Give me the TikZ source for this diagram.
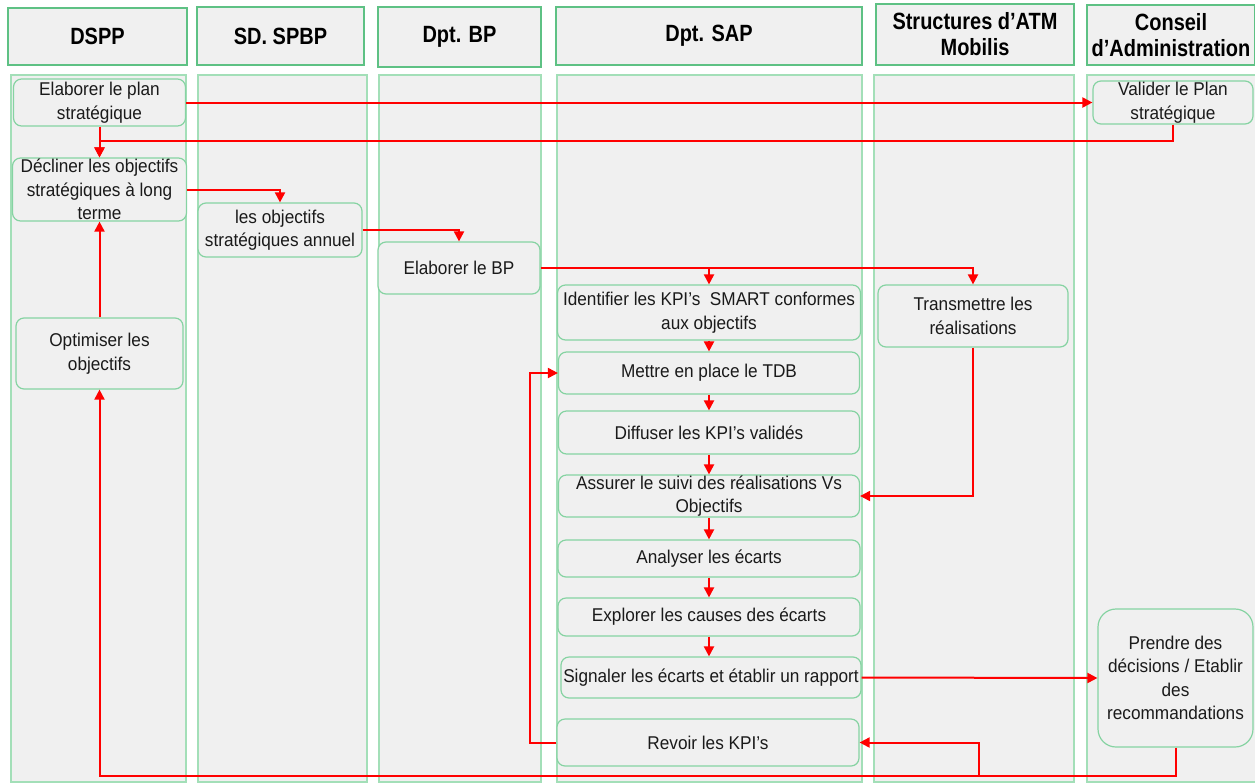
\documentclass[tikz,border=0pt]{standalone}
\usepackage{fontspec}
\setmainfont{Liberation Sans}[FakeStretch=0.93]
\newfontfamily\headfont{Liberation Sans}[FakeStretch=0.85]
\usetikzlibrary{arrows.meta}
\definecolor{lanefill}{HTML}{F0F0F0}
\definecolor{laneline}{HTML}{A3DFB8}
\definecolor{headline}{HTML}{5EC184}
\definecolor{boxline}{HTML}{86D3A2}
\definecolor{flowred}{HTML}{FF0000}
\definecolor{ink}{HTML}{1A1A1A}
\tikzset{
  lane/.style={draw=laneline, fill=lanefill, line width=1.2pt},
  head/.style={draw=headline, fill=lanefill, line width=1.4pt, text=black,
    font=\headfont\fontsize{23.5}{26}\selectfont\bfseries, align=center, inner sep=0pt},
  task/.style={draw=boxline, fill=lanefill, line width=1.2pt, rounded corners=8pt,
    text=ink, font=\fontsize{18.5}{23.5}\selectfont, align=center, inner sep=0pt},
  flow/.style={draw=flowred, line width=2pt, -{Triangle[length=10pt,width=10pt]}},
}
\begin{document}
\begin{tikzpicture}[x=1pt,y=-1pt]
\useasboundingbox[fill=white] (0,0) rectangle (1255,782);

% swimlane bodies
\draw[lane] (11,75) rectangle (186,782);
\draw[lane] (198,75) rectangle (367,782);
\draw[lane] (379,75) rectangle (541,782);
\draw[lane] (557,75) rectangle (862,782);
\draw[lane] (874,75) rectangle (1074,782);
\draw[lane] (1087,75) rectangle (1262,782);

% swimlane headers
\node[head, minimum width=179pt, minimum height=57pt] (hdspp) at (97.5,36.5) {DSPP};
\node[head, minimum width=167pt, minimum height=58pt] (hspbp) at (280.5,36) {SD. SPBP};
\node[head, minimum width=163pt, minimum height=60pt] (hbp) at (459.5,37) {Dpt. BP};
\node[head, minimum width=306pt, minimum height=58pt] (hsap) at (709,36) {Dpt. SAP};
\node[head, minimum width=198pt, minimum height=61pt] (hatm) at (975,34.5) {Structures d’ATM\\Mobilis};
\node[head, minimum width=168pt, minimum height=60pt] (hca) at (1171,35) {Conseil\\d’Administration};

% tasks
\node[task, minimum width=172pt, minimum height=47pt] (plan) at (99.5,102.5) {Elaborer le plan\\stratégique};
\node[task, minimum width=160pt, minimum height=43pt] (valider) at (1173,102.5) {Valider le Plan\\stratégique};
\node[task, minimum width=174pt, minimum height=63pt] (decliner) at (99.5,189.5) {Décliner les objectifs\\stratégiques à long\\terme};
\node[task, minimum width=164pt, minimum height=54pt] (annuel) at (280,230) {les objectifs\\stratégiques annuel};
\node[task, minimum width=162pt, minimum height=52pt] (bp) at (459,268) {Elaborer le BP};
\node[task, minimum width=167pt, minimum height=71pt] (optimiser) at (99.5,353.5) {Optimiser les\\objectifs};
\node[task, minimum width=303pt, minimum height=55pt] (identifier) at (709,312.5) {Identifier les KPI’s\ \ SMART conformes\\aux objectifs};
\node[task, minimum width=190pt, minimum height=62pt] (transmettre) at (973,316) {Transmettre les\\réalisations};
\node[task, minimum width=301pt, minimum height=42pt] (mettre) at (709,373) {Mettre en place le TDB};
\node[task, minimum width=301pt, minimum height=43pt] (diffuser) at (709,432.5) {Diffuser les KPI’s validés};
\node[task, minimum width=301pt, minimum height=42pt] (assurer) at (709,496) {Assurer le suivi des réalisations Vs\\Objectifs};
\node[task, minimum width=302pt, minimum height=37pt] (analyser) at (709,558.5) {Analyser les écarts};
\node[task, minimum width=302pt, minimum height=38pt] (explorer) at (709,617) {Explorer les causes des écarts};
\node[task, minimum width=300pt, minimum height=41pt] (signaler) at (711,677.5) {Signaler les écarts et établir un rapport};
\node[task, minimum width=302pt, minimum height=47pt] (revoir) at (708,742.5) {Revoir les KPI’s};
\node[task, minimum width=155pt, minimum height=138pt, rounded corners=18pt] (prendre) at (1175.5,678) {Prendre des\\décisions / Etablir\\des\\recommandations};

% junction points of the flow lines
\coordinate (retour) at (99.5,141);
\coordinate (bas) at (979,776);

% flows
\draw[flow] (plan.east) -- (valider.west);
\draw[flow] (plan.south) -- (decliner.north);
\draw[flow] (valider.south) |- (retour) -- (decliner.north);
\draw[flow] (decliner.east) -| (annuel.north);
\draw[flow] (annuel.east) -| (bp.north);
\draw[flow] (bp.east) -| (transmettre.north);
\draw[flow] (bp.east -| identifier.north) -- (identifier.north);
\draw[flow] (identifier.south) -- (mettre.north);
\draw[flow] (mettre.south) -- (diffuser.north);
\draw[flow] (diffuser.south) -- (assurer.north);
\draw[flow] (assurer.south) -- (analyser.north);
\draw[flow] (analyser.south) -- (explorer.north);
\draw[flow] (explorer.south) -- (explorer.south |- signaler.north);
\draw[flow] (transmettre.south) |- (assurer.east);
\draw[flow] (signaler.east) -- (prendre.west);
\draw[flow] (prendre.south) |- (bas) -| (optimiser.south);
\draw[flow] (bas) |- (revoir.east);
\draw[flow] (revoir.west) -- ++(-26,0) |- (mettre.west);
\draw[flow] (optimiser.north) -- (decliner.south);
\end{tikzpicture}
\end{document}
